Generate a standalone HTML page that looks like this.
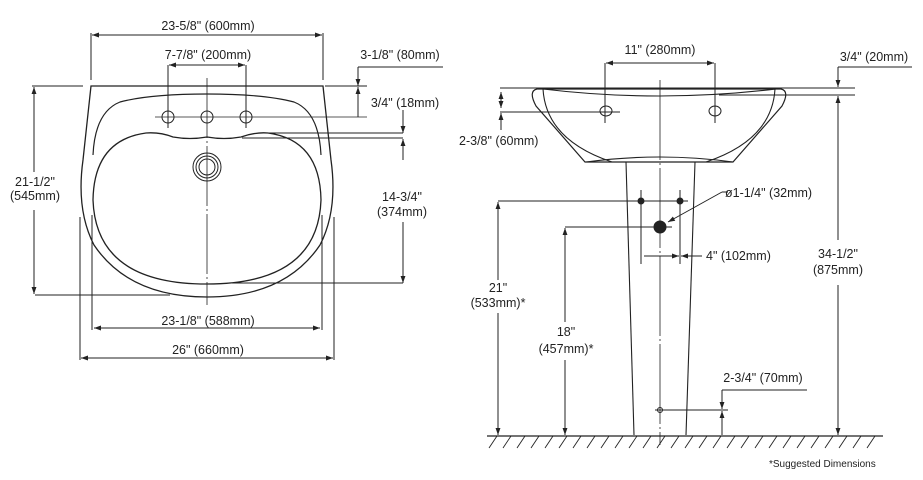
<!DOCTYPE html>
<html><head><meta charset="utf-8"><style>
html,body{margin:0;padding:0;background:#fff;}
svg{display:block;}
text{font-family:"Liberation Sans",Arial,sans-serif;font-size:12.5px;fill:#222;}
</style></head><body>
<svg width="923" height="480" viewBox="0 0 923 480" xmlns="http://www.w3.org/2000/svg">
<defs>
<marker id="a" viewBox="0 0 10 10" refX="10" refY="5" markerWidth="7" markerHeight="7" orient="auto-start-reverse" markerUnits="userSpaceOnUse"><path d="M0,1.5 L10,5 L0,8.5 z" fill="#222"/></marker>
</defs>
<g stroke="#222" stroke-width="1" fill="none">
<line x1="91" y1="33" x2="91" y2="80"/><line x1="323" y1="33" x2="323" y2="80"/>
<line x1="92" y1="35" x2="322" y2="35" marker-start="url(#a)" marker-end="url(#a)"/>
<path d="M91,86 L323,86 L331,160 Q338,210 320,245 Q285,297 207,297 Q129,297 94,245 Q76,210 83,160 Z" stroke-width="1.3"/>
<path d="M93,155 Q95,112 120,102 Q150,94 207,94 Q264,94 294,102 Q319,112 321,155" stroke-width="1.2"/>
<path d="M241,137 Q255,132 268,133 Q320,140 321,200 Q318,284 207,284 Q96,284 93,200 Q94,140 146,133 Q160,132 173,137 Q190,140 207,137 Q224,140 241,137 Z" stroke-width="1.3"/>
<circle cx="168" cy="117" r="6"/><circle cx="207" cy="117" r="6"/><circle cx="246" cy="117" r="6"/>
<circle cx="207" cy="167" r="14"/><circle cx="207" cy="167" r="11"/><circle cx="207" cy="167" r="8"/>
<line x1="155" y1="117" x2="367" y2="117" stroke-width="0.8"/>
<line x1="207" y1="78" x2="207" y2="305" stroke-width="0.8" stroke-dasharray="60 3 2 3"/>
<line x1="168" y1="65" x2="168" y2="128"/><line x1="246" y1="65" x2="246" y2="128"/>
<line x1="169" y1="65" x2="245" y2="65" marker-start="url(#a)" marker-end="url(#a)"/>
<line x1="358" y1="67" x2="443" y2="67"/>
<line x1="358" y1="67" x2="358" y2="86" marker-end="url(#a)"/>
<line x1="325" y1="86" x2="367" y2="86"/>
<line x1="358" y1="117" x2="358" y2="87" marker-end="url(#a)"/>
<line x1="403" y1="110" x2="403" y2="133" marker-end="url(#a)"/>
<line x1="265" y1="133" x2="403" y2="133"/>
<line x1="242" y1="138" x2="403" y2="138"/>
<line x1="403" y1="160" x2="403" y2="139" marker-end="url(#a)"/>
<line x1="403" y1="222" x2="403" y2="283" marker-end="url(#a)"/>
<line x1="232" y1="283" x2="403" y2="283"/>
<line x1="32" y1="86" x2="83" y2="86"/><line x1="35" y1="295" x2="170" y2="295"/>
<line x1="34" y1="87" x2="34" y2="172" marker-start="url(#a)"/>
<line x1="34" y1="210" x2="34" y2="294" marker-end="url(#a)"/>
<line x1="92" y1="215" x2="92" y2="330"/><line x1="322" y1="215" x2="322" y2="330"/>
<line x1="94" y1="328" x2="320" y2="328" marker-start="url(#a)" marker-end="url(#a)"/>
<line x1="80" y1="217" x2="80" y2="360"/><line x1="334" y1="217" x2="334" y2="360"/>
<line x1="81" y1="358" x2="333" y2="358" marker-start="url(#a)" marker-end="url(#a)"/>

<line x1="605" y1="63" x2="605" y2="123"/><line x1="715" y1="63" x2="715" y2="123"/>
<line x1="606" y1="63" x2="714" y2="63" marker-start="url(#a)" marker-end="url(#a)"/>
<line x1="660" y1="80" x2="660" y2="445" stroke-width="0.8" stroke-dasharray="80 3 2 3"/>
<line x1="500" y1="88" x2="855" y2="88"/>
<line x1="719" y1="95" x2="855" y2="95"/>
<path d="M537,89 Q528,91 536,106 L585,162 L733,162 L782,106 Q790,91 781,89 Z" stroke-width="1.2"/>
<path d="M543,89 Q546,140 612,162 M775,89 Q772,140 706,162" stroke-width="1.1"/>
<path d="M543,89 Q660,103 776,89" stroke-width="1.1"/>
<path d="M586,162 Q660,152 733,162" stroke-width="1.1"/>
<ellipse cx="606" cy="111" rx="6" ry="5"/><ellipse cx="715" cy="111" rx="6" ry="5"/>
<line x1="500" y1="112" x2="620" y2="112"/>
<line x1="501" y1="92" x2="501" y2="108" marker-start="url(#a)" marker-end="url(#a)"/>
<line x1="501" y1="130" x2="501" y2="113" marker-end="url(#a)"/>
<line x1="626" y1="162" x2="634" y2="435" stroke-width="1.1"/>
<line x1="695" y1="162" x2="686" y2="435" stroke-width="1.1"/>
<line x1="838" y1="67" x2="912" y2="67"/>
<line x1="838" y1="67" x2="838" y2="87" marker-end="url(#a)"/>
<line x1="838" y1="96" x2="838" y2="240" marker-start="url(#a)"/>
<line x1="838" y1="285" x2="838" y2="435" marker-end="url(#a)"/>
<line x1="498" y1="201" x2="688" y2="201"/>
<circle cx="641" cy="201" r="3" fill="#222"/><circle cx="680" cy="201" r="3" fill="#222"/>
<line x1="641" y1="190" x2="641" y2="264"/><line x1="680" y1="190" x2="680" y2="264"/>
<circle cx="660" cy="227" r="6" fill="#222"/>
<line x1="565" y1="227" x2="672" y2="227"/>
<line x1="722" y1="192" x2="728" y2="192"/>
<line x1="722" y1="192" x2="668" y2="222" marker-end="url(#a)"/>
<line x1="644" y1="256" x2="679" y2="256" marker-end="url(#a)"/>
<line x1="702" y1="256" x2="681" y2="256" marker-end="url(#a)"/>
<line x1="498" y1="202" x2="498" y2="280" marker-start="url(#a)"/>
<line x1="498" y1="313" x2="498" y2="435" marker-end="url(#a)"/>
<line x1="565" y1="228" x2="565" y2="322" marker-start="url(#a)"/>
<line x1="565" y1="360" x2="565" y2="435" marker-end="url(#a)"/>
<circle cx="660" cy="410" r="2.5"/>
<line x1="655" y1="410" x2="728" y2="410"/>
<line x1="722" y1="390" x2="807" y2="390"/>
<line x1="722" y1="390" x2="722" y2="409" marker-end="url(#a)"/>
<line x1="722" y1="435" x2="722" y2="411" marker-end="url(#a)"/>
<line x1="487" y1="436" x2="883" y2="436" stroke-width="1.3"/>
<path d="M497,436 l-8,12 M511,436 l-8,12 M525,436 l-8,12 M539,436 l-8,12 M553,436 l-8,12 M567,436 l-8,12 M581,436 l-8,12 M595,436 l-8,12 M609,436 l-8,12 M623,436 l-8,12 M637,436 l-8,12 M651,436 l-8,12 M665,436 l-8,12 M679,436 l-8,12 M693,436 l-8,12 M707,436 l-8,12 M721,436 l-8,12 M735,436 l-8,12 M749,436 l-8,12 M763,436 l-8,12 M777,436 l-8,12 M791,436 l-8,12 M805,436 l-8,12 M819,436 l-8,12 M833,436 l-8,12 M847,436 l-8,12 M861,436 l-8,12 M875,436 l-8,12" stroke-width="0.9"/>
</g>
<g text-anchor="middle">
<text x="208" y="30">23-5/8" (600mm)</text>
<text x="208" y="59">7-7/8" (200mm)</text>
<text x="400" y="59">3-1/8" (80mm)</text>
<text x="405" y="107">3/4" (18mm)</text>
<text x="402" y="201">14-3/4"</text>
<text x="402" y="216">(374mm)</text>
<text x="35" y="186">21-1/2"</text>
<text x="35" y="200">(545mm)</text>
<text x="208" y="325">23-1/8" (588mm)</text>
<text x="208" y="354">26" (660mm)</text>
<text x="660" y="54">11" (280mm)</text>
<text x="874" y="61">3/4" (20mm)</text>
<text x="838" y="258">34-1/2"</text>
<text x="838" y="274">(875mm)</text>
<text x="498" y="292">21"</text>
<text x="498" y="307">(533mm)*</text>
<text x="566" y="336">18"</text>
<text x="566" y="353">(457mm)*</text>
<text x="763" y="382">2-3/4" (70mm)</text>
</g>
<text x="459" y="145">2-3/8" (60mm)</text>
<text x="725" y="197">ø1-1/4" (32mm)</text>
<text x="706" y="260">4" (102mm)</text>
<text x="769" y="467" style="font-size:10px">*Suggested Dimensions</text>
</svg>
</body></html>
